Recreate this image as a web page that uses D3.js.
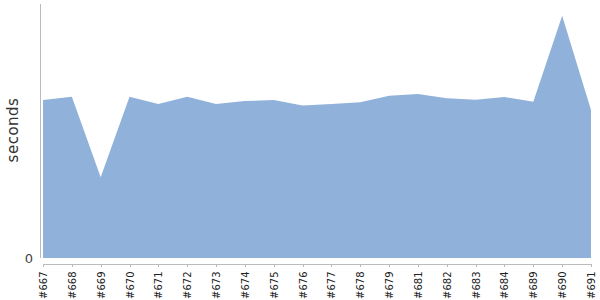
<!DOCTYPE html>
<html>
<head>
<meta charset="utf-8">
<script src="https://cdn.jsdelivr.net/npm/d3@7"></script>
<style>
  body { margin: 0; background: #fff; }
  svg { display: block; font-family: "DejaVu Sans", Verdana, sans-serif; }
  .area { fill: #8fb1da; stroke: none; }
  .axis path, .axis line { stroke: #bbb; fill: none; shape-rendering: crispEdges; }
  .axis text { fill: #222; }
</style>
</head>
<body>
<script>
var builds = ["#667","#668","#669","#670","#671","#672","#673","#674","#675","#676",
              "#677","#678","#679","#681","#682","#683","#684","#689","#690","#691"];
var seconds = [622,635,318,635,606,635,606,618,622,600,
               606,613,639,646,629,623,634,615,954,583];
var yTicks = [0];

var loadChart = function(){
    var svg = d3.select("body").append("svg")
        .attr("width", 600)
        .attr("height", 300);

    var xScale = d3.scalePoint().domain(builds).range([43, 591]);
    var yScale = d3.scaleLinear().domain([0, 1000]).range([258, 4]);

    var area = d3.area()
        .x(function(d, i){ return xScale(builds[i]); })
        .y0(yScale(0))
        .y1(function(d){ return yScale(d); });

    svg.append("path").datum(seconds)
        .classed("area", true)
        .attr("d", area);

    // y axis: plain line with only the zero label
    var yAxis = svg.append("g").classed("axis", true);
    yAxis.append("line")
        .attr("x1", 40.5).attr("x2", 40.5)
        .attr("y1", yScale(1000)).attr("y2", yScale(0));
    yAxis.selectAll("text").data(yTicks).enter().append("text")
        .attr("x", 33)
        .attr("y", function(d){ return yScale(d); })
        .attr("dy", "0.35em")
        .attr("text-anchor", "end")
        .style("font-size", "13px")
        .style("fill", "#444")
        .text(function(d){ return d; });

    // x axis below the area
    var xAxis = d3.axisBottom(xScale).tickSize(3).tickSizeOuter(0);
    var gx = svg.append("g")
        .classed("axis", true)
        .attr("transform", "translate(0,263.5)")
        .call(xAxis);
    gx.selectAll("text")
        .attr("transform", "rotate(-90)")
        .attr("x", -8)
        .attr("y", 0)
        .attr("dy", "0.35em")
        .attr("text-anchor", "end")
        .style("font-size", "10px")
        .style("font-family", "'DejaVu Sans', Verdana, sans-serif");

    svg.append("text")
        .attr("transform", "translate(18,130) rotate(-90)")
        .attr("text-anchor", "middle")
        .style("font-size", "15px")
        .style("fill", "#333")
        .style("letter-spacing", "0.5px")
        .text("seconds");
}

window.onload = loadChart;
</script>
</body>
</html>
